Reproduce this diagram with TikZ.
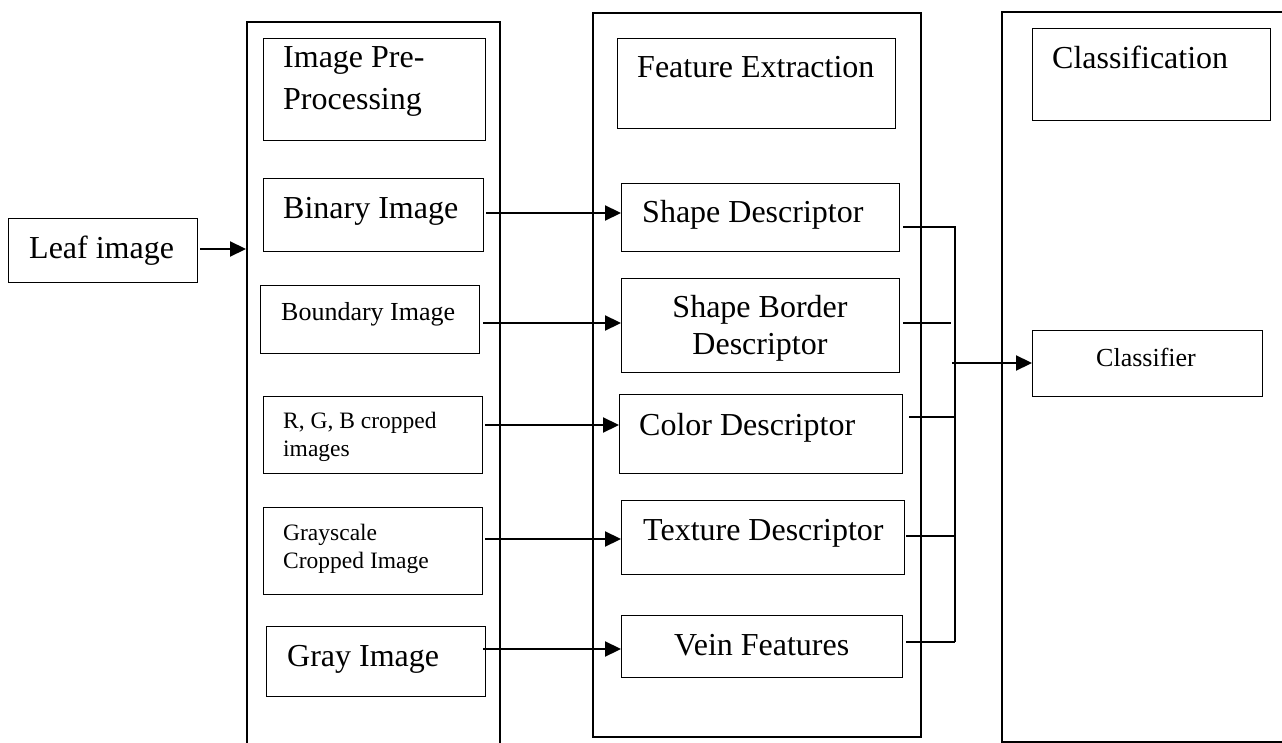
\documentclass[tikz,border=0pt]{standalone}
\usepackage{fontspec}
\setmainfont{Liberation Serif}
\usetikzlibrary{arrows.meta}
\tikzset{
  box/.style={draw, line width=1.1pt, inner sep=0pt, anchor=north west},
  outerbox/.style={draw, line width=2.2pt, inner sep=0pt, anchor=north west},
  big/.style={font=\fontsize{32}{37}\selectfont},
  mid/.style={font=\fontsize{26}{30}\selectfont},
  small/.style={font=\fontsize{23.5}{28}\selectfont},
  lbl/.style={inner sep=0pt, anchor=base west, align=left},
  arr/.style={line width=2.2pt, -{Triangle[length=16pt,width=15pt]}},
  bus/.style={line width=1.5pt},
}
\begin{document}
\begin{tikzpicture}[x=1pt,y=-1pt]
\useasboundingbox (0,0) rectangle (1282,743);
\clip (0,0) rectangle (1282,743);
% column frames
\node[outerbox, minimum width=253pt, minimum height=760pt] (col1) at (246,21) {};
\node[outerbox, minimum width=328pt, minimum height=724pt] (col2) at (592,12) {};
\node[outerbox, minimum width=320pt, minimum height=730pt] (col3) at (1001,11) {};
% boxes
\node[box, minimum width=189pt, minimum height=64pt] (leaf) at (8,218) {};
\node[box, minimum width=222pt, minimum height=102pt] (pre) at (263,38) {};
\node[box, minimum width=220pt, minimum height=73pt] (bin) at (263,178) {};
\node[box, minimum width=219pt, minimum height=68pt] (bnd) at (260,285) {};
\node[box, minimum width=219pt, minimum height=77pt] (rgb) at (263,396) {};
\node[box, minimum width=219pt, minimum height=87pt] (gs) at (263,507) {};
\node[box, minimum width=219pt, minimum height=70pt] (gray) at (266,626) {};
\node[box, minimum width=278pt, minimum height=90pt] (fe) at (617,38) {};
\node[box, minimum width=278pt, minimum height=68pt] (sd) at (621,183) {};
\node[box, minimum width=278pt, minimum height=94pt] (sbd) at (621,278) {};
\node[box, minimum width=283pt, minimum height=79pt] (cd) at (619,394) {};
\node[box, minimum width=283pt, minimum height=74pt] (tex) at (621,500) {};
\node[box, minimum width=281pt, minimum height=62pt] (vein) at (621,615) {};
\node[box, minimum width=238pt, minimum height=92pt] (cls) at (1032,28) {};
\node[box, minimum width=230pt, minimum height=66pt] (clf) at (1032,330) {};
% texts (multi-line nodes: base = last line's baseline)
\node[lbl, big] (leafT) at (29,259) {Leaf image};
\node[lbl, font=\fontsize{32}{42}\selectfont] (preT) at (283,110) {Image Pre-\\Processing};
\node[lbl, big] (binT) at (283,219) {Binary Image};
\node[lbl, mid] (bndT) at (281,320) {Boundary Image};
\node[lbl, small] (rgbT) at (283,456) {R, G, B cropped\\images};
\node[lbl, small] (gsT) at (283,568) {Grayscale\\Cropped Image};
\node[lbl, big] (grayT) at (287,666) {Gray Image};
\node[lbl, big] (feT) at (637,78) {Feature Extraction};
\node[lbl, big] (sdT) at (642,223) {Shape Descriptor};
\node[inner sep=0pt, anchor=base, align=center, big] (sbdT) at (760,354) {Shape Border\\Descriptor};
\node[lbl, big] (cdT) at (639,435) {Color Descriptor};
\node[lbl, big] (texT) at (643,540) {Texture Descriptor};
\node[lbl, big] (veinT) at (674,655) {Vein Features};
\node[lbl, big] (clsT) at (1052,69) {Classification};
\node[lbl, mid] (clfT) at (1096,366) {Classifier};
% arrows
\draw[arr] (leaf.east |- 0,249) ++(2,0) -- (col1.west |- 0,249);
\draw[arr] (bin.east |- 0,213) ++(2,0) -- (sd.west |- 0,213);
\draw[arr] (bnd.east |- 0,323) ++(3,0) -- (sbd.west |- 0,323);
\draw[arr] (rgb.east |- 0,425) ++(2,0) -- (cd.west |- 0,425);
\draw[arr] (gs.east |- 0,539) ++(2,0) -- (tex.west |- 0,539);
\draw[arr] (gray.east |- 0,649) ++(-3,0) -- (vein.west |- 0,649);
% bus to classifier
\coordinate (jtop) at (955,227);
\coordinate (jbot) at (955,642);
\draw[bus] (sd.east |- jtop) ++(3,0) -- (jtop) -- (jbot);
\draw[bus] (sbd.east |- 0,323) ++(3,0) -- (951,323);
\draw[bus] (cd.east |- 0,417) ++(6,0) -- (jtop |- 0,417);
\draw[bus] (tex.east |- 0,536) ++(1,0) -- (jtop |- 0,536);
\draw[bus] (vein.east |- jbot) ++(3,0) -- (jbot);
\draw[arr] (952,363) -- (clf.west |- 0,363);
\end{tikzpicture}
\end{document}
